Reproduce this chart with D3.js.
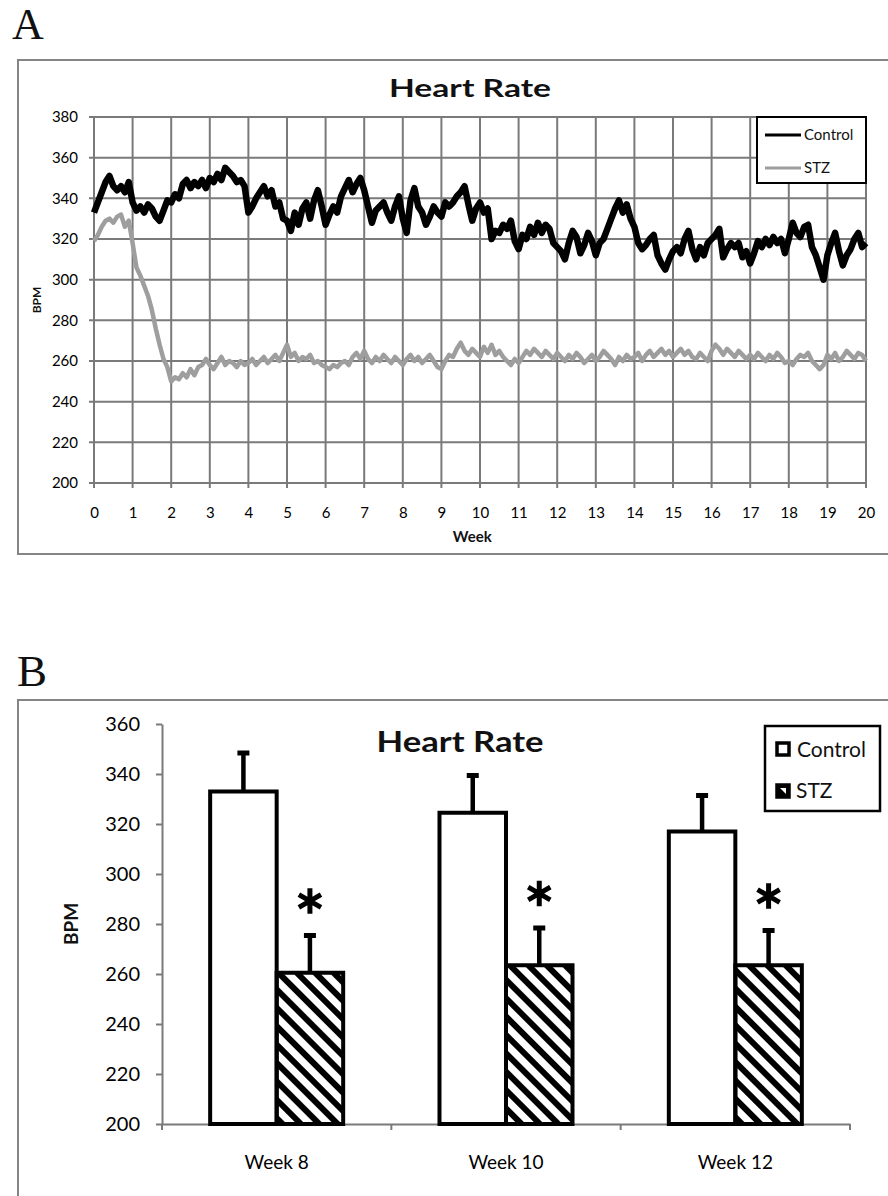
<!DOCTYPE html>
<html>
<head>
<meta charset="utf-8">
<script src="https://cdn.jsdelivr.net/npm/d3@7"></script>
<style>
body { margin: 0; background: #fff; }
text { font-family: Lato, "Open Sans", sans-serif; fill: #111; }
</style>
</head>
<body>
<div id="fig"></div>
<script>
// panel A: telemetry heart rate, one reading every 0.1 week
var weekStep = 0.1;
var controlHR = [
  333, 338, 343, 348, 351, 346, 344, 346, 343, 348,
  338, 334, 336, 333, 337, 335, 331, 329, 334, 339,
  338, 342, 340, 347, 349, 345, 348, 346, 349, 345,
  350, 348, 352, 349, 355, 353, 351, 348, 349, 346,
  333, 336, 340, 343, 346, 341, 344, 336, 338, 330,
  329, 324, 333, 327, 335, 338, 330, 339, 344, 336,
  327, 332, 336, 333, 341, 345, 349, 343, 347, 350,
  344, 336, 328, 334, 336, 338, 333, 329, 336, 341,
  330, 323, 339, 345, 336, 333, 327, 331, 336, 333,
  331, 338, 336, 338, 341, 343, 346, 337, 329, 335,
  338, 333, 335, 320, 324, 323, 327, 325, 329, 319,
  315, 322, 320, 326, 322, 328, 323, 327, 325, 318,
  316, 314, 310, 318, 324, 321, 313, 317, 323, 319,
  312, 318, 320, 325, 330, 335, 339, 333, 337, 330,
  326, 318, 315, 317, 320, 322, 312, 308, 305, 310,
  314, 316, 313, 320, 324, 315, 310, 316, 312, 318,
  320, 322, 325, 311, 315, 318, 316, 318, 311, 314,
  308, 313, 319, 316, 320, 317, 321, 318, 320, 313,
  320, 328, 323, 321, 326, 327, 316, 312, 306, 300,
  312, 318, 323, 314, 307, 312, 315, 320, 323, 316,
  318
];
var stzHR = [
  319, 322, 326, 329, 330, 328, 331, 332, 326, 329,
  318, 306, 302, 297, 292, 285, 276, 268, 261, 257,
  250, 252, 251, 254, 252, 256, 253, 257, 258, 261,
  258, 256, 259, 262, 258, 260, 259, 257, 260, 258,
  259, 261, 258, 260, 262, 259, 261, 263, 260, 264,
  268, 262, 264, 260, 262, 261, 263, 259, 260, 258,
  257, 256, 258, 257, 259, 260, 258, 262, 264, 261,
  265, 261, 259, 262, 260, 263, 261, 259, 262, 260,
  258, 261, 263, 260, 262, 259, 261, 263, 260, 257,
  256, 260, 263, 262, 266, 269, 265, 263, 266, 264,
  262, 267, 264, 268, 263, 265, 262, 260, 258, 261,
  259, 262, 265, 263, 266, 264, 262, 265, 263, 261,
  264, 262, 260, 263, 261, 264, 262, 259, 261, 263,
  260, 262, 265, 263, 261, 258, 262, 260, 263, 261,
  262, 264, 260, 263, 265, 262, 264, 266, 263, 265,
  262, 264, 266, 263, 265, 262, 261, 264, 262, 260,
  265, 268, 266, 263, 266, 264, 262, 265, 263, 261,
  263, 261, 264, 262, 260, 263, 261, 264, 262, 259,
  260, 258, 261, 263, 262, 264, 260, 258, 256, 258,
  263, 261, 264, 260, 262, 265, 263, 261, 264, 263,
  260
];
var weekTicks = [0, 1, 2, 3, 4, 5, 6, 7, 8, 9, 10, 11, 12, 13, 14, 15, 16, 17, 18, 19, 20];
var bpmTicksA = [200, 220, 240, 260, 280, 300, 320, 340, 360, 380];

// panel B: mean heart rate with SEM
var barWeeks = ["Week 8", "Week 10", "Week 12"];
var groups = ["Control", "STZ"];
var controlMean = [333, 324.5, 317];
var controlSem = [16, 15.5, 15];
var stzMean = [260.5, 263.5, 263.5];
var stzSem = [15.5, 15.5, 14.5];
var bpmTicksB = [200, 220, 240, 260, 280, 300, 320, 340, 360];

var width = 888,
    height = 1196;

var svg = d3.select("#fig")
  .append("svg")
    .attr("width", width)
    .attr("height", height);

svg.append("rect").attr("width", width).attr("height", height).attr("fill", "#fff");

// diagonal hatch for the STZ bars
svg.append("defs")
  .append("pattern")
    .attr("id", "hatch")
    .attr("patternUnits", "userSpaceOnUse")
    .attr("width", 13)
    .attr("height", 13)
    .attr("patternTransform", "rotate(-45)")
  .append("rect")
    .attr("width", 6)
    .attr("height", 13)
    .attr("fill", "#000");

// ================= panel A =================
var xA = d3.scaleLinear().domain([0, 20]).range([94, 866]);
var yA = d3.scaleLinear().domain([200, 380]).range([483, 117]);

var gA = svg.append("g");

gA.append("text").attr("x", 12).attr("y", 39)
  .style("font-family", "'Liberation Serif', 'Times New Roman', serif")
  .style("font-size", "44px").text("A");

gA.append("rect")
  .attr("x", 18).attr("y", 60).attr("width", 900).attr("height", 494)
  .attr("fill", "none").attr("stroke", "#858585").attr("stroke-width", 2);

// grid (lines run a little past the axes like tick marks)
gA.selectAll(".vgrid")
  .data(weekTicks)
  .join("line")
    .attr("x1", function(d) { return xA(d); })
    .attr("x2", function(d) { return xA(d); })
    .attr("y1", yA(380))
    .attr("y2", yA(200) + 5)
    .attr("stroke", "#7a7a7a").attr("stroke-width", 2);

gA.selectAll(".hgrid")
  .data(bpmTicksA)
  .join("line")
    .attr("x1", xA(0) - 5)
    .attr("x2", xA(20))
    .attr("y1", function(d) { return yA(d); })
    .attr("y2", function(d) { return yA(d); })
    .attr("stroke", "#7a7a7a").attr("stroke-width", 2);

var axA_y = gA.append("g")
  .attr("transform", "translate(" + xA(0) + ",0)")
  .call(d3.axisLeft(yA).tickValues(bpmTicksA).tickSize(0).tickPadding(16));
var axA_x = gA.append("g")
  .attr("transform", "translate(0," + yA(200) + ")")
  .call(d3.axisBottom(xA).tickValues(weekTicks).tickSize(0).tickPadding(24));
[axA_y, axA_x].forEach(function(ax) {
  ax.select(".domain").remove();
  ax.selectAll("text").style("font-size", "15px").style("fill", "#000");
});

var lineA = d3.line()
  .x(function(d, i) { return xA(i * weekStep); })
  .y(function(d) { return yA(d); });

gA.append("path").datum(stzHR)
  .attr("d", lineA)
  .attr("fill", "none").attr("stroke", "#9e9e9e")
  .attr("stroke-width", 4.5).attr("stroke-linejoin", "round");

gA.append("path").datum(controlHR)
  .attr("d", lineA)
  .attr("fill", "none").attr("stroke", "#000")
  .attr("stroke-width", 6.5).attr("stroke-linejoin", "round");

gA.append("text").attr("x", 470).attr("y", 97)
  .attr("text-anchor", "middle").style("font-weight", "bold").style("font-size", "24px")
  .attr("textLength", 162).attr("lengthAdjust", "spacingAndGlyphs")
  .text("Heart Rate");
gA.append("text").attr("x", xA(9.8)).attr("y", 542)
  .attr("text-anchor", "middle").style("font-weight", "bold").style("font-size", "15px")
  .text("Week");
gA.append("text")
  .attr("transform", "translate(41," + yA(290) + ") rotate(-90)")
  .attr("text-anchor", "middle").style("font-weight", "bold").style("font-size", "12px")
  .text("BPM");

// legend A
var legA = gA.append("g");
legA.append("rect").attr("x", 757).attr("y", 117).attr("width", 109).attr("height", 66)
  .attr("fill", "#fff").attr("stroke", "#000").attr("stroke-width", 2);
[["Control", "#000", 135], ["STZ", "#9e9e9e", 168]].forEach(function(it) {
  legA.append("line").attr("x1", 765).attr("x2", 801).attr("y1", it[2]).attr("y2", it[2])
    .attr("stroke", it[1]).attr("stroke-width", 3);
  legA.append("text").attr("x", 804).attr("y", it[2] + 5).style("font-size", "15px").text(it[0]);
});

// ================= panel B =================
var yB = d3.scaleLinear().domain([200, 360]).range([1124, 724]);
var xB = d3.scaleBand().domain(barWeeks).range([162, 850]).paddingInner(0.42).paddingOuter(0.21);
var xSub = d3.scaleBand().domain(groups).range([0, xB.bandwidth()]);

var gB = svg.append("g");

gB.append("text").attr("x", 17).attr("y", 686)
  .style("font-family", "'Liberation Serif', 'Times New Roman', serif")
  .style("font-size", "45px").text("B");

gB.append("rect")
  .attr("x", 18).attr("y", 700).attr("width", 900).attr("height", 600)
  .attr("fill", "none").attr("stroke", "#858585").attr("stroke-width", 2);

var axB_y = gB.append("g")
  .attr("transform", "translate(162,0)")
  .call(d3.axisLeft(yB).tickValues(bpmTicksB).tickSize(6).tickPadding(16).tickSizeOuter(0));
axB_y.selectAll("text").style("font-size", "20px").style("fill", "#000");

var axB_x = gB.append("g")
  .attr("transform", "translate(0," + yB(200) + ")")
  .call(d3.axisBottom(xB).tickSize(0).tickPadding(32).tickSizeOuter(0));
axB_x.selectAll("text").style("font-size", "19px").style("fill", "#000");

// Excel style ticks between the categories
var bounds = [0, 1, 2, 3].map(function(i) { return xB.range()[0] + i * xB.step(); });
gB.selectAll(".catTick")
  .data(bounds)
  .join("line")
    .attr("x1", function(d) { return d; })
    .attr("x2", function(d) { return d; })
    .attr("y1", yB(200))
    .attr("y2", yB(200) + 6);

gB.selectAll(".domain, .tick line, line").attr("stroke", "#7a7a7a").attr("stroke-width", 2);

var barRows = [];
barWeeks.forEach(function(w, i) {
  barRows.push({ week: w, group: "Control", mean: controlMean[i], sem: controlSem[i] });
  barRows.push({ week: w, group: "STZ", mean: stzMean[i], sem: stzSem[i] });
});

// error bars (upper side only)
gB.selectAll(".err")
  .data(barRows)
  .join("line")
    .attr("x1", function(d) { return xB(d.week) + xSub(d.group) + xSub.bandwidth() / 2; })
    .attr("x2", function(d) { return xB(d.week) + xSub(d.group) + xSub.bandwidth() / 2; })
    .attr("y1", function(d) { return yB(d.mean); })
    .attr("y2", function(d) { return yB(d.mean + d.sem); })
    .attr("stroke", "#000").attr("stroke-width", 4.5);

gB.selectAll(".cap")
  .data(barRows)
  .join("rect")
    .attr("x", function(d) { return xB(d.week) + xSub(d.group) + xSub.bandwidth() / 2 - 6; })
    .attr("y", function(d) { return yB(d.mean + d.sem) - 1; })
    .attr("width", 12)
    .attr("height", 5)
    .attr("fill", "#000");

gB.selectAll(".bar")
  .data(barRows)
  .join("rect")
    .attr("x", function(d) { return xB(d.week) + xSub(d.group); })
    .attr("y", function(d) { return yB(d.mean); })
    .attr("width", xSub.bandwidth())
    .attr("height", function(d) { return yB(200) - yB(d.mean); })
    .attr("fill", function(d) { return d.group === "STZ" ? "url(#hatch)" : "#fff"; })
    .attr("stroke", "#000")
    .attr("stroke-width", 4);

// significance stars over the STZ bars
var star = d3.symbol().type(d3.symbolAsterisk).size(460);
gB.selectAll(".star")
  .data(barRows.filter(function(d) { return d.group === "STZ"; }))
  .join("path")
    .attr("d", star)
    .attr("transform", function(d) {
      return "translate(" + (xB(d.week) + xSub(d.group) + xSub.bandwidth() / 2) + "," + (yB(d.mean + d.sem) - 33) + ")";
    })
    .attr("fill", "none").attr("stroke", "#000").attr("stroke-width", 5);

gB.append("text").attr("x", 460).attr("y", 752)
  .attr("text-anchor", "middle").style("font-weight", "bold").style("font-size", "29px")
  .attr("textLength", 167).attr("lengthAdjust", "spacingAndGlyphs")
  .text("Heart Rate");
gB.append("text")
  .attr("transform", "translate(78," + yB(280) + ") rotate(-90)")
  .attr("text-anchor", "middle").style("font-weight", "bold").style("font-size", "19px")
  .text("BPM");

// legend B
var legB = gB.append("g");
legB.append("rect").attr("x", 765).attr("y", 726).attr("width", 115).attr("height", 85)
  .attr("fill", "#fff").attr("stroke", "#000").attr("stroke-width", 2.5);
legB.append("rect").attr("x", 777).attr("y", 743).attr("width", 12).attr("height", 12)
  .attr("fill", "#fff").attr("stroke", "#000").attr("stroke-width", 3.5);
legB.append("rect").attr("x", 777).attr("y", 785).attr("width", 12).attr("height", 12)
  .attr("fill", "#000").attr("stroke", "#000").attr("stroke-width", 3.5);
legB.append("path").attr("d", "M780,788 L786,788 L786,794 Z").attr("fill", "#fff");
legB.append("text").attr("x", 797).attr("y", 757).style("font-size", "21px").text(groups[0]);
legB.append("text").attr("x", 796).attr("y", 798).style("font-size", "21px").text(groups[1]);
</script>
</body>
</html>
